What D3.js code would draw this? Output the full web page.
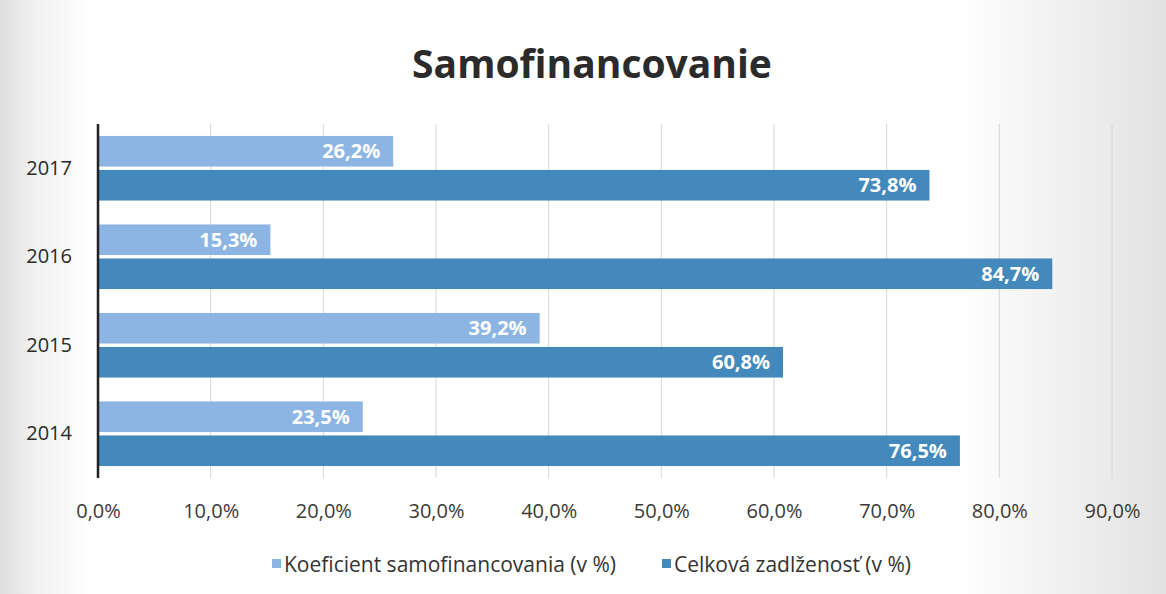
<!DOCTYPE html>
<html>
<head>
<meta charset="utf-8">
<script src="https://cdn.jsdelivr.net/npm/d3@7"></script>
<style>
  body { margin: 0; background: #fff; }
  svg { display: block; font-family: "Open Sans", sans-serif; }
</style>
</head>
<body>
<div id="chart"></div>
<script>
// data
var years = ["2017", "2016", "2015", "2014"];
var seriesNames = ["Koeficient samofinancovania (v %)", "Celková zadlženosť (v %)"];
var selfFin = [26.2, 15.3, 39.2, 23.5];
var debt = [73.8, 84.7, 60.8, 76.5];
var xTicks = [0, 10, 20, 30, 40, 50, 60, 70, 80, 90];
var colors = ["#8cb5e3", "#4489bb"];

var width = 1166, height = 594;

var svg = d3.select("#chart")
    .append("svg")
    .attr("width", width)
    .attr("height", height);

// scanned paper look: gray edges, white middle
var defs = svg.append("defs");
var grad = defs.append("linearGradient").attr("id", "paper");
grad.append("stop").attr("offset", "0%").attr("stop-color", "#dedede");
grad.append("stop").attr("offset", "3%").attr("stop-color", "#f1f1f1");
grad.append("stop").attr("offset", "8%").attr("stop-color", "#ffffff");
grad.append("stop").attr("offset", "82%").attr("stop-color", "#ffffff");
grad.append("stop").attr("offset", "92%").attr("stop-color", "#efefef");
grad.append("stop").attr("offset", "100%").attr("stop-color", "#e2e2e2");
svg.append("rect").attr("width", width).attr("height", height).attr("fill", "url(#paper)");

var x = d3.scaleLinear().domain([0, 90]).range([98, 1112]);
var y = d3.scaleBand().domain(years).range([124, 478]).paddingInner(0.27).paddingOuter(0.135);
var ys = d3.scaleBand().domain([0, 1]).range([0, y.bandwidth()]).paddingInner(0.1);

// gridlines
svg.append("g")
    .selectAll("line")
    .data(xTicks.slice(1))
    .enter().append("line")
    .attr("x1", function (d) { return x(d); })
    .attr("x2", function (d) { return x(d); })
    .attr("y1", 124)
    .attr("y2", 478)
    .attr("stroke", "#d6d6d6")
    .attr("stroke-width", 1);

// x tick labels
var xAxis = d3.axisBottom(x)
    .tickValues(xTicks)
    .tickSize(0)
    .tickPadding(0)
    .tickFormat(function (d) { return d3.format(".1f")(d).replace(".", ",") + "%"; });

var gx = svg.append("g")
    .attr("transform", "translate(0,518)")
    .call(xAxis);
gx.select(".domain").remove();
gx.selectAll("text")
    .attr("dy", 0)
    .attr("font-size", 20)
    .attr("fill", "#3a3a3a")
    .attr("font-family", "'Open Sans', sans-serif");

// y labels
var yAxis = d3.axisLeft(y).tickSize(0).tickPadding(26);
var gy = svg.append("g")
    .attr("transform", "translate(98,0)")
    .call(yAxis);
gy.select(".domain").remove();
gy.selectAll("text")
    .attr("font-size", 20)
    .attr("fill", "#2a2a2a")
    .attr("font-family", "'Open Sans', sans-serif");

var rows = years.map(function (yr, i) {
    return { year: yr, vals: [selfFin[i], debt[i]] };
});

var row = svg.selectAll("g.row")
    .data(rows)
    .enter().append("g")
    .attr("class", "row")
    .attr("transform", function (d) { return "translate(0," + y(d.year) + ")"; });

var bar = row.selectAll("g.bar")
    .data(function (d) { return d.vals.map(function (v, j) { return { v: v, s: j }; }); })
    .enter().append("g")
    .attr("class", "bar");

bar.append("rect")
    .attr("x", x(0))
    .attr("y", function (d) { return ys(d.s); })
    .attr("width", function (d) { return x(d.v) - x(0); })
    .attr("height", ys.bandwidth())
    .attr("fill", function (d) { return colors[d.s]; });

bar.append("text")
    .attr("x", function (d) { return x(d.v) - 13; })
    .attr("y", function (d) { return ys(d.s) + ys.bandwidth() / 2; })
    .attr("dy", "0.35em")
    .attr("text-anchor", "end")
    .attr("font-size", 20)
    .attr("font-weight", "bold")
    .attr("fill", "#ffffff")
    .text(function (d) { return d3.format(".1f")(d.v).replace(".", ",") + "%"; });

// value axis line
svg.append("line")
    .attr("x1", x(0)).attr("x2", x(0))
    .attr("y1", 124).attr("y2", 478)
    .attr("stroke", "#222").attr("stroke-width", 2.5);

// title
svg.append("text")
    .attr("x", 592)
    .attr("y", 78)
    .attr("text-anchor", "middle")
    .attr("font-size", 39)
    .attr("font-weight", "bold")
    .attr("fill", "#2b2b2b")
    .text("Samofinancovanie");

// legend
var legendX = [272, 662];
var leg = svg.selectAll("g.legend")
    .data(seriesNames)
    .enter().append("g")
    .attr("class", "legend")
    .attr("transform", function (d, i) { return "translate(" + legendX[i] + ",565)"; });

leg.append("rect")
    .attr("x", 0).attr("y", -6)
    .attr("width", 9).attr("height", 9)
    .attr("fill", function (d, i) { return colors[i]; });

leg.append("text")
    .attr("x", 12)
    .attr("dy", "0.35em")
    .attr("font-size", 21)
    .attr("fill", "#333")
    .text(function (d) { return d; });
</script>
</body>
</html>
